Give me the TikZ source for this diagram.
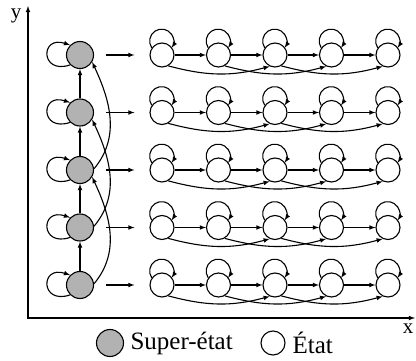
\documentclass[tikz,border=0pt]{standalone}
\usepackage{fontspec}
\setmainfont{Liberation Serif}
\usetikzlibrary{shapes,arrows}

\tikzset{
  etat/.style={circle, draw, line width=1.1pt, minimum size=24pt, inner sep=0pt},
  superetat/.style={etat, fill=black!30, minimum size=27pt},
  fleche/.style={-latex, line width=1.1pt},
  axelabel/.style={font=\fontsize{21}{24}\selectfont, inner sep=1pt},
}

\begin{document}
\begin{tikzpicture}[x=1pt, y=1pt, font=\fontsize{25}{30}\selectfont]
        \useasboundingbox (0,0) rectangle (416,360);
        % Draw axes
        \draw [latex-latex, line width=1.1pt] (28,354) node (yaxis) {} |- (415,42) node (xaxis) {};
        \node [axelabel] (ly) at (16,344) {y};
        \node [axelabel] (lx) at (408,31) {x};
        % Super-etats
        \foreach \k in {1,...,5} {
                \node [superetat] (s\k) at (80, 362.5-57.5*\k) {};
                \draw [fleche] (s\k.225) .. controls +(-30,-10) and +(-30,10) .. (s\k.135);
        }
        \foreach \k in {1,...,4} {
                \pgfmathtruncatemacro{\n}{\k+1}
                \draw [fleche] (s\n) -- (s\k);
        }
        \foreach \k in {1,2,3} {
                \pgfmathtruncatemacro{\n}{\k+2}
                \draw [fleche] (s\n.5) to [out=50, in=-65] (s\k.-30);
        }
        % Etats
        \foreach \k in {1,...,5} {
                \foreach \j in {1,...,5} {
                        \node [etat] (e\k\j) at (105.5+56.5*\j, 362.5-57.5*\k) {};
                        \draw [fleche] (e\k\j.145) arc [start angle=214, end angle=-34, radius=12];
                }
                \draw [fleche, shorten <=12pt, shorten >=15pt] (s\k) -- (e\k1);
                \foreach \j in {1,...,4} {
                        \pgfmathtruncatemacro{\n}{\j+1}
                        \draw [fleche] (e\k\j) -- (e\k\n);
                }
                \foreach \j in {1,2,3} {
                        \pgfmathtruncatemacro{\n}{\j+2}
                        \draw [fleche] (e\k\j.-60) to [out=-15, in=-165] (e\k\n.-115);
                }
        }
        % Legende
        \node [superetat] (lsuper) at (110,17) {};
        \node [right] (tsuper) at (127,17) {Super-état};
        \node [etat] (letat) at (273,17) {};
        \node [right] (tetat) at (289,17) {État};
\end{tikzpicture}
\end{document}
